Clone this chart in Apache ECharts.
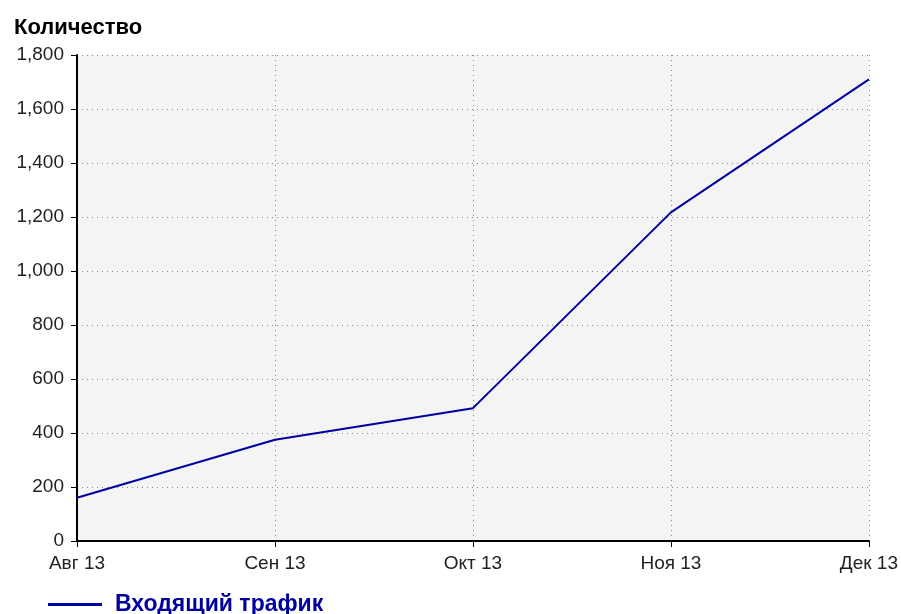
<!DOCTYPE html>
<html><head><meta charset="utf-8">
<script src="https://cdn.jsdelivr.net/npm/echarts@6/dist/echarts.min.js"></script>
<style>html,body{margin:0;padding:0;background:#fff}#c{width:901px;height:614px}</style>
</head><body><div id="c"></div>
<script>
const categories = ['Авг 13','Сен 13','Окт 13','Ноя 13','Дек 13'];
const incoming = [160, 375, 492, 1217, 1710];
const seriesName = 'Входящий трафик';
const yTitle = 'Количество';

const chart = echarts.init(document.getElementById('c'));
const font = 'Liberation Sans, Arial, sans-serif';
chart.setOption({
  animation: false,
  backgroundColor: '#ffffff',
  title: { text: yTitle, left: 9, top: 12, textStyle: { fontFamily: font, fontSize: 22, fontWeight: 'bold', color: '#000' } },
  legend: {
    left: 43, top: 588, itemWidth: 54, itemHeight: 3, itemGap: 10,
    data: [{ name: seriesName, icon: 'rect' }],
    itemStyle: { color: '#0000a0' },
    textStyle: { fontFamily: font, fontSize: 23, fontWeight: 'bold', color: '#0000a0', padding: [0, 0, 0, 8] }
  },
  grid: { left: 77, right: 31, top: 55, bottom: 73, show: true, backgroundColor: '#f4f4f4', borderWidth: 0 },
  xAxis: {
    type: 'category', data: categories, boundaryGap: false,
    axisLine: { lineStyle: { color: '#000', width: 2 } },
    axisTick: { show: true, length: 6, lineStyle: { color: '#000', width: 1 } },
    axisLabel: { fontFamily: font, fontSize: 19, color: '#222', margin: 13 },
    splitLine: { show: true, lineStyle: { color: '#8c8c8c', type: [1, 4], width: 1 } }
  },
  yAxis: {
    type: 'value', min: 0, max: 1800, interval: 200,
    axisLine: { show: true, lineStyle: { color: '#000', width: 2 } },
    axisTick: { show: true, length: 6, lineStyle: { color: '#000', width: 1 } },
    axisLabel: { fontFamily: font, fontSize: 19, color: '#222', margin: 13 },
    splitLine: { show: true, lineStyle: { color: '#8c8c8c', type: [1, 4], width: 1 } }
  },
  series: [{
    name: seriesName, type: 'line', data: incoming, symbol: 'none',
    lineStyle: { color: '#0000a0', width: 2 }, itemStyle: { color: '#0000a0' }
  }]
});
</script></body></html>
